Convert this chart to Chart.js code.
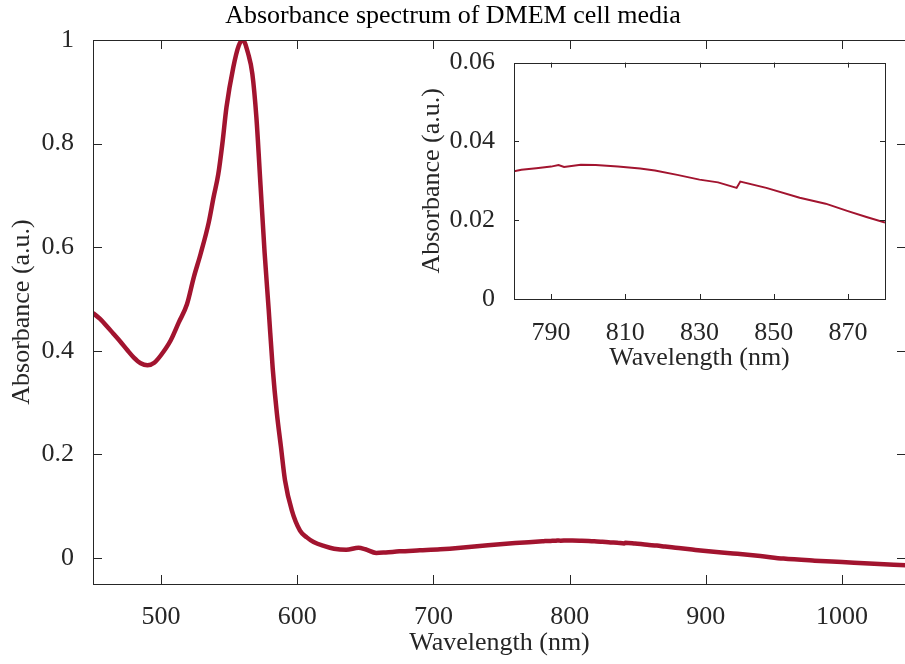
<!DOCTYPE html>
<html>
<head>
<meta charset="utf-8">
<script src="https://cdn.jsdelivr.net/npm/chart.js@4.4.1/dist/chart.umd.min.js"></script>
<style>
  html, body { margin: 0; padding: 0; background: #fff; }
  #wrap { position: relative; width: 905px; height: 664px; overflow: hidden; }
  #mainChart { position: absolute; left: 0; top: 0; }
  #insetChart { position: absolute; left: 410px; top: 36px; }
</style>
</head>
<body>
<div id="wrap">
  <canvas id="mainChart" width="910" height="664"></canvas>
  <canvas id="insetChart" width="477" height="341"></canvas>
</div>
<script>
// spectrum (nm, a.u.)
const wavelength = [
  450, 455, 460, 465, 470, 475, 480, 485, 490, 495,
  500, 507, 513, 519, 524, 529, 535, 538.5, 542, 545,
  548, 553, 557, 560, 564, 567, 570, 573, 576, 579,
  582, 585, 588, 591, 596, 602, 607, 612, 620, 627,
  636, 645, 650, 658, 665, 675, 690, 705, 720, 740,
  760, 780, 782, 786, 790, 792, 793.5, 798, 802, 808,
  814, 818, 824, 830, 835, 840, 841, 848, 857, 864,
  870, 875, 880, 890, 900, 920, 940, 957, 980, 1000,
  1020, 1047
];
const absorbance = [
  0.473, 0.462, 0.448, 0.433, 0.418, 0.402, 0.387, 0.376, 0.372, 0.377,
  0.392, 0.42, 0.455, 0.49, 0.542, 0.587, 0.648, 0.696, 0.741, 0.80,
  0.87, 0.947, 0.989, 1.0, 0.973, 0.935, 0.85, 0.72, 0.59, 0.48,
  0.365, 0.28, 0.215, 0.15, 0.092, 0.053, 0.04, 0.031, 0.023, 0.018,
  0.016, 0.020, 0.017, 0.010, 0.011, 0.013, 0.015, 0.017, 0.020, 0.025,
  0.029, 0.0324, 0.0328, 0.0332, 0.0336, 0.0340, 0.0335, 0.0341, 0.0340, 0.0336,
  0.0331, 0.0326, 0.0315, 0.0303, 0.0296, 0.0282, 0.0298, 0.0282, 0.0257, 0.0242,
  0.0223, 0.0208, 0.0194, 0.0165, 0.0137, 0.009, 0.004, -0.001, -0.005, -0.0077,
  -0.0105, -0.014
];

const mainXTicks = [500, 600, 700, 800, 900, 1000];
const mainYTicks = [0, 0.2, 0.4, 0.6, 0.8, 1];
const insetXTicks = [790, 810, 830, 850, 870];
const insetYTicks = [0, 0.02, 0.04, 0.06];

const lineColor = "#A2142F";
const axisColor = "#262626";

Chart.defaults.font.family = "'Liberation Serif', 'Times New Roman', serif";
Chart.defaults.font.size = 26;
Chart.defaults.color = axisColor;

const points = wavelength.map((w, i) => ({ x: w, y: absorbance[i] }));

// box around the plot area, ticks pointing inward (matlab style)
const framePlugin = {
  id: "frame",
  beforeDraw(chart) {
    const { ctx, chartArea: a } = chart;
    ctx.save();
    ctx.fillStyle = "#fff";
    ctx.fillRect(a.left, a.top, a.right - a.left, a.bottom - a.top);
    ctx.restore();
  },
  afterDraw(chart, args, opts) {
    const { ctx, chartArea: a, scales } = chart;
    const len = opts.tickLen || 6;
    ctx.save();
    ctx.strokeStyle = axisColor;
    ctx.lineWidth = 1;
    ctx.beginPath();
    scales.x.ticks.forEach((t) => {
      const px = Math.round(scales.x.getPixelForValue(t.value)) + 0.5;
      ctx.moveTo(px, a.bottom); ctx.lineTo(px, a.bottom - len);
      ctx.moveTo(px, a.top); ctx.lineTo(px, a.top + len);
    });
    scales.y.ticks.forEach((t) => {
      const py = Math.round(scales.y.getPixelForValue(t.value)) + 0.5;
      ctx.moveTo(a.left, py); ctx.lineTo(a.left + len, py);
      ctx.moveTo(a.right, py); ctx.lineTo(a.right - len, py);
    });
    ctx.stroke();
    ctx.strokeRect(Math.round(a.left) + 0.5, Math.round(a.top) + 0.5,
      Math.round(a.right - a.left), Math.round(a.bottom - a.top));
    ctx.restore();
  },
};

function axis(min, max, ticks, title, pad, titlePad, size, horizontal) {
  return {
    type: "linear",
    min: min,
    max: max,
    grid: { display: false },
    border: { display: false },
    afterBuildTicks: (s) => { s.ticks = ticks.map((v) => ({ value: v })); },
    afterFit: (s) => { if (horizontal) s.height = size; else s.width = size; },
    ticks: { padding: pad, color: axisColor, callback: (v) => String(v) },
    title: { display: true, text: title, color: axisColor, padding: titlePad },
  };
}

new Chart(document.getElementById("mainChart"), {
  type: "line",
  data: {
    datasets: [{
      data: points,
      borderColor: lineColor,
      borderWidth: 4.5,
      pointRadius: 0,
      cubicInterpolationMode: "monotone",
      fill: false,
    }],
  },
  options: {
    responsive: false,
    animation: false,
    layout: { padding: { left: 0, right: 4, top: 0, bottom: 0 } },
    plugins: {
      legend: { display: false },
      tooltip: { enabled: false },
      title: {
        display: true,
        text: "Absorbance spectrum of DMEM cell media",
        color: "#000",
        font: { weight: "normal", size: 26 },
        padding: { top: 1, bottom: 7.8 },
      },
      frame: { tickLen: 9 },
    },
    scales: {
      x: axis(450, 1047, mainXTicks, "Wavelength (nm)", 10, { top: 0, bottom: 5.4 }, 80, true),
      y: axis(-0.05, 1, mainYTicks, "Absorbance (a.u.)", 11, { top: 6.4, bottom: 0 }, 93, false),
    },
  },
  plugins: [framePlugin],
});

new Chart(document.getElementById("insetChart"), {
  type: "line",
  data: {
    datasets: [{
      data: points,
      borderColor: lineColor,
      borderWidth: 2,
      pointRadius: 0,
      tension: 0,
      fill: false,
    }],
  },
  options: {
    responsive: false,
    animation: false,
    layout: { padding: { left: 0, right: 2, top: 20, bottom: 0 } },
    plugins: {
      legend: { display: false },
      tooltip: { enabled: false },
      frame: { tickLen: 5 },
    },
    scales: {
      x: axis(780, 880, insetXTicks, "Wavelength (nm)", 10.4, { top: 0, bottom: 3.4 }, 78, true),
      y: axis(0, 0.06, insetYTicks, "Absorbance (a.u.)", 11, { top: 6.4, bottom: 0 }, 104, false),
    },
  },
  plugins: [framePlugin],
});
</script>
</body>
</html>
